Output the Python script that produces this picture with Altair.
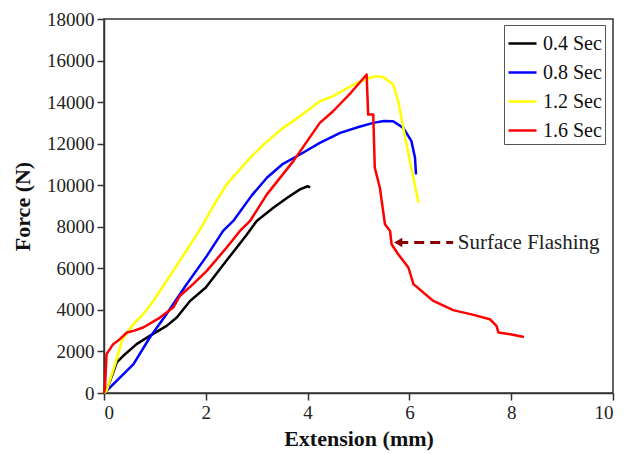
import altair as alt
import pandas as pd

series = ["0.4 Sec", "0.8 Sec", "1.2 Sec", "1.6 Sec"]
colors = ["#000000", "#0000FF", "#FFFF00", "#FF0000"]

x04 = [0, 0.05, 0.25, 0.38, 0.64, 0.9, 1.23, 1.43, 1.69, 2.0, 2.4, 2.8, 3.0, 3.32, 3.6, 3.85, 4.0, 4.05]
y04 = [0, 100, 1470, 1790, 2350, 2750, 3230, 3630, 4430, 5075, 6350, 7600, 8280, 8900, 9400, 9800, 9950, 9900]

x08 = [0.05, 0.58, 0.9, 1.23, 1.6, 2.02, 2.34, 2.54, 2.9, 3.2, 3.5, 3.85, 4.24, 4.64, 5.0, 5.29, 5.5, 5.68, 5.88, 6.04, 6.11, 6.13]
y08 = [100, 1390, 2670, 3800, 5150, 6600, 7800, 8280, 9500, 10360, 11000, 11480, 12040, 12520, 12800, 13000, 13090, 13080, 12760, 12120, 11320, 10520]

x12 = [0, 0.05, 0.22, 0.35, 0.45, 0.58, 0.77, 0.97, 1.23, 1.49, 1.89, 2.15, 2.41, 2.87, 3.2, 3.52, 3.85, 4.24, 4.5, 4.96, 5.2, 5.35, 5.5, 5.68, 5.78, 5.88, 6.01, 6.18]
y12 = [0, 100, 1390, 2510, 2910, 3320, 3800, 4430, 5400, 6360, 7880, 9000, 10040, 11320, 12100, 12760, 13320, 14040, 14290, 14920, 15150, 15250, 15200, 14850, 14050, 12760, 11160, 9160]

x16 = [0, 0.02, 0.05, 0.18, 0.31, 0.45, 0.58, 0.77, 1.1, 1.36, 1.49, 1.75, 2.02, 2.41, 2.67, 2.87, 3.2, 3.72, 4.24, 4.5, 4.85, 5.16,
       5.19, 5.29, 5.32, 5.42, 5.52, 5.62, 5.65, 5.78, 5.98, 6.08, 6.47, 6.86, 7.26, 7.58, 7.71, 7.75, 7.98, 8.25]
y16 = [0, 270, 1870, 2350, 2590, 2910, 2990, 3150, 3630, 4110, 4670, 5240, 5880, 7000, 7800, 8280, 9560, 11160, 13000, 13560, 14450, 15330,
       13400, 13400, 10840, 9880, 8120, 7800, 7160, 6680, 6040, 5240, 4430, 3990, 3760, 3550, 3230, 2910, 2830, 2700]

note_text = ["Surface Flashing"]
note_tip_x = [5.78]
note_tail_x = [6.86]
note_y = [7240]
note_text_x = [6.95]

rows = []
for name, xs, ys in zip(series, [x04, x08, x12, x16], [y04, y08, y12, y16]):
    for i, (xv, yv) in enumerate(zip(xs, ys)):
        rows.append({"series": name, "ext": xv, "force": yv, "ord": i})
df = pd.DataFrame(rows)

note = pd.DataFrame({"tip": note_tip_x, "tail": note_tail_x, "y": note_y, "tx": note_text_x, "label": note_text})

font = "Liberation Serif"
xscale = alt.Scale(domain=[0, 10], nice=False)
yscale = alt.Scale(domain=[0, 18000], nice=False)

lines = alt.Chart(df).mark_line(strokeWidth=2.5, strokeJoin="round").encode(
    x=alt.X("ext:Q", scale=xscale, title="Extension (mm)",
            axis=alt.Axis(values=[0, 2, 4, 6, 8, 10], grid=False, labelFont=font, labelFontSize=19)),
    y=alt.Y("force:Q", scale=yscale, title="Force (N)",
            axis=alt.Axis(values=list(range(0, 18001, 2000)), grid=False, format="d",
                          labelFont=font, labelFontSize=19)),
    color=alt.Color("series:N", scale=alt.Scale(domain=series, range=colors),
                    legend=alt.Legend(title=None, orient="none", legendX=400, legendY=6,
                                      symbolType="stroke", symbolSize=784, symbolStrokeWidth=2.5,
                                      labelFont=font, labelFontSize=20, labelColor="#111",
                                      rowPadding=3, padding=3, strokeColor="#555",
                                      fillColor="white", labelOffset=5)),
    order="ord:Q",
)

arrow = alt.Chart(note).mark_rule(color="#8B0000", strokeWidth=3, strokeDash=[10, 6]).encode(
    x=alt.X("tip:Q", scale=xscale), x2="tail:Q", y=alt.Y("y:Q", scale=yscale)
)
head = alt.Chart(note).mark_point(shape="triangle-left", filled=True, color="#8B0000", size=90, opacity=1).encode(
    x=alt.X("tip:Q", scale=xscale), y=alt.Y("y:Q", scale=yscale)
)
label = alt.Chart(note).mark_text(align="left", baseline="middle", font=font, fontSize=21, color="#222").encode(
    x=alt.X("tx:Q", scale=xscale), y=alt.Y("y:Q", scale=yscale), text="label:N"
)

chart = alt.layer(lines, arrow, head, label).properties(
    width=509, height=374, autosize="none",
    padding={"left": 96, "top": 11, "right": 4, "bottom": 58},
).configure_axis(
    labelColor="#222",
    titleFont=font, titleFontSize=22, titleFontWeight="bold", titleColor="#111",
    domainColor="#333", domainWidth=1.5, tickColor="#333", tickWidth=1.5, tickSize=7,
    labelPadding=3,
).configure_axisX(titlePadding=6).configure_axisY(titlePadding=12).configure_view(
    stroke="#333", strokeWidth=1.5
)

chart.save("out.html", embed_options={"renderer": "svg", "actions": False})
